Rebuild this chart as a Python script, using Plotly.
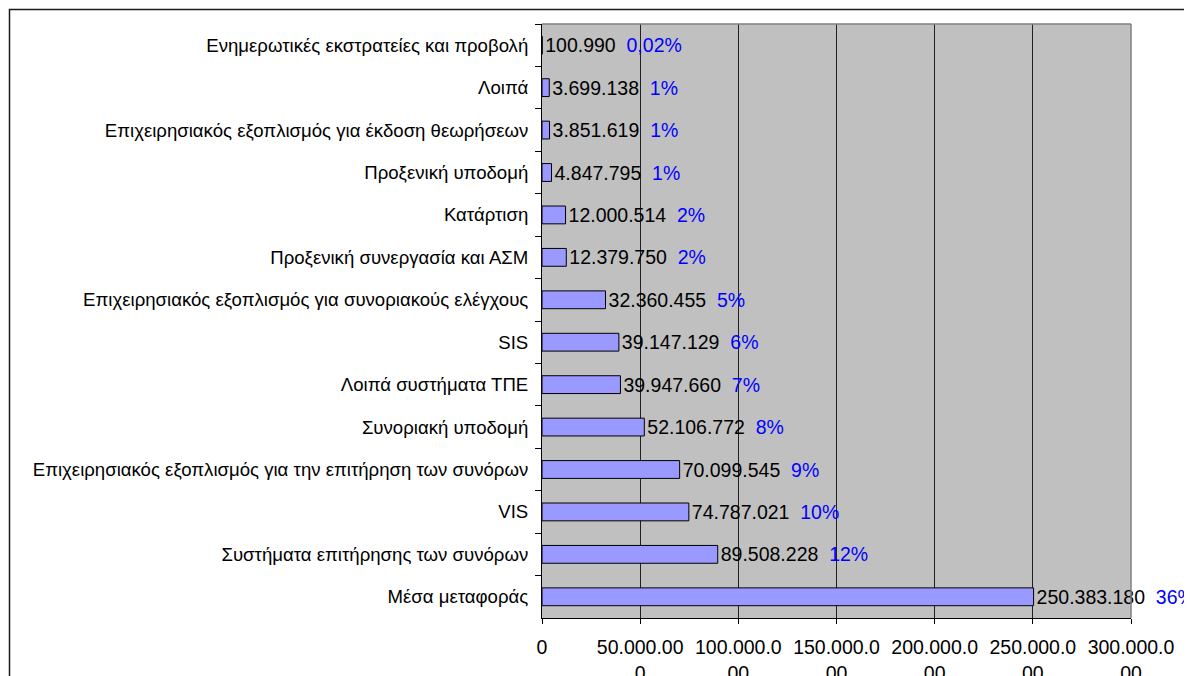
import plotly.graph_objects as go

categories = [
    "Ενημερωτικές εκστρατείες και προβολή",
    "Λοιπά",
    "Επιχειρησιακός εξοπλισμός για έκδοση θεωρήσεων",
    "Προξενική υποδομή",
    "Κατάρτιση",
    "Προξενική συνεργασία και ΑΣΜ",
    "Επιχειρησιακός εξοπλισμός για συνοριακούς ελέγχους",
    "SIS",
    "Λοιπά συστήματα ΤΠΕ",
    "Συνοριακή υποδομή",
    "Επιχειρησιακός εξοπλισμός για την επιτήρηση των συνόρων",
    "VIS",
    "Συστήματα επιτήρησης των συνόρων",
    "Μέσα μεταφοράς",
]
values = [100990, 3699138, 3851619, 4847795, 12000514, 12379750, 32360455,
          39147129, 39947660, 52106772, 70099545, 74787021, 89508228, 250383180]
value_labels = ["100.990", "3.699.138", "3.851.619", "4.847.795", "12.000.514",
                "12.379.750", "32.360.455", "39.147.129", "39.947.660",
                "52.106.772", "70.099.545", "74.787.021", "89.508.228",
                "250.383.180"]
pct_labels = ["0,02%", "1%", "1%", "1%", "2%", "2%", "5%", "6%", "7%", "8%",
              "9%", "10%", "12%", "36%"]
x_tickvals = [0, 50e6, 100e6, 150e6, 200e6, 250e6, 300e6]
x_ticktext = ["0", "50.000.00<br>0", "100.000.0<br>00", "150.000.0<br>00",
              "200.000.0<br>00", "250.000.0<br>00", "300.000.0<br>00"]

FONT = "Liberation Sans, Arial, sans-serif"
FS = 19.5
FS_Y = 18.6
gap = "\u00a0\u00a0"
texts = [f"{v}{gap}<span style='color:#0000FF'>{p}</span>"
         for v, p in zip(value_labels, pct_labels)]

fig = go.Figure(go.Bar(
    x=values, y=categories, orientation="h", width=0.42,
    marker=dict(color="#9999FF", line=dict(color="black", width=1)),
    text=texts, textposition="outside", cliponaxis=False,
    constraintext="none",
    textfont=dict(family=FONT, size=FS, color="black"),
    hoverinfo="skip",
))

# page body has an 8px margin: shift figure content up/left by 8px
OFF = 8
W, H = 1192, 676
L, T = 542 - OFF, 24 - OFF
PW, PH = 589, 594
R = W - L - PW
B = H - T - PH

fig.update_layout(
    width=W, height=H, autosize=False,
    margin=dict(l=L, r=R, t=T, b=B, pad=0, autoexpand=False),
    plot_bgcolor="#C0C0C0", paper_bgcolor="white",
    showlegend=False,
    font=dict(family=FONT, size=FS, color="black"),
    xaxis=dict(range=[0, 300e6], tickvals=x_tickvals, ticktext=x_ticktext,
               showgrid=True, gridcolor="#202020", gridwidth=1,
               showline=True, linecolor="black", linewidth=1,
               ticks="outside", ticklen=5, tickcolor="black",
               ticklabelstandoff=7, automargin=False,
               tickfont=dict(family=FONT, size=FS, color="black"),
               zeroline=False, fixedrange=True),
    yaxis=dict(type="category", autorange="reversed", tickson="boundaries",
               ticks="outside", ticklen=6, tickcolor="black",
               ticklabelstandoff=9, automargin=False,
               tickfont=dict(family=FONT, size=FS_Y, color="black"),
               showline=True, linecolor="black", linewidth=1,
               showgrid=False, zeroline=False, fixedrange=True),
    shapes=[
        dict(type="line", xref="paper", yref="paper", x0=0, x1=1, y0=1, y1=1,
             line=dict(color="#808080", width=1.5)),
        dict(type="line", xref="paper", yref="paper", x0=1, x1=1, y0=0, y1=1,
             line=dict(color="#808080", width=1.5)),
        dict(type="rect", xref="paper", yref="paper",
             x0=(9 - OFF + 0.5 - L) / PW, x1=3, y0=-2,
             y1=1 + (T - (9 - OFF + 0.5)) / PH,
             line=dict(color="#1a1a1a", width=1.5)),
    ],
)

fig.write_html("out.html")
